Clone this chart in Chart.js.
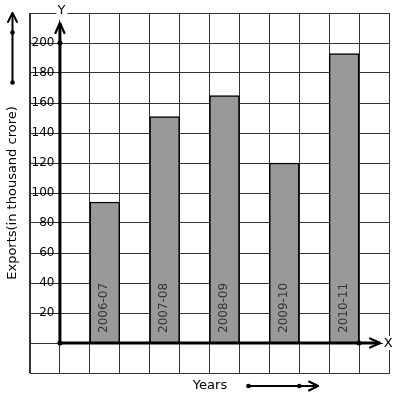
<!DOCTYPE html>
<html>
<head>
<meta charset="utf-8">
<script src="https://cdn.jsdelivr.net/npm/chart.js@4/dist/chart.umd.min.js"></script>
<style>
html,body{margin:0;padding:0;background:#fff;}
#wrap{width:397px;height:399px;position:relative;}
</style>
</head>
<body>
<div id="wrap"><canvas id="c"></canvas></div>
<script>
// ---- data ----
const categories = ['2006-07', '2007-08', '2008-09', '2009-10', '2010-11'];
const exportsValues = [94, 151, 165, 120, 193];
const yTickLabels = [20, 40, 60, 80, 100, 120, 140, 160, 180, 200];
const yAxisTitle = 'Exports(in thousand crore)';
const xAxisTitle = 'Years';

// graph-paper columns: one empty column between bars, two before the first
const slotCount = 12;
const slotLabels = [];
const slotValues = [];
for (let i = 0; i < slotCount; i++) { slotLabels.push(''); slotValues.push(null); }
categories.forEach((c, i) => { slotLabels[2 + 2 * i] = c; slotValues[2 + 2 * i] = exportsValues[i]; });

Chart.defaults.font.family = "'DejaVu Sans', sans-serif";

function chevronUp(ctx, x, y, w, h) {
  ctx.beginPath();
  ctx.moveTo(x - w, y + h); ctx.lineTo(x, y); ctx.lineTo(x + w, y + h);
  ctx.stroke();
}
function chevronRight(ctx, x, y, w, h) {
  ctx.beginPath();
  ctx.moveTo(x - h, y - w); ctx.lineTo(x, y); ctx.lineTo(x - h, y + w);
  ctx.stroke();
}
function dot(ctx, x, y, r) {
  ctx.beginPath(); ctx.arc(x, y, r, 0, Math.PI * 2); ctx.fill();
}

const decor = {
  id: 'decor',
  afterDraw(chart) {
    const ctx = chart.ctx;
    const xs = chart.scales.x, ys = chart.scales.y;
    const x0 = (xs.getPixelForValue(0) + xs.getPixelForValue(1)) / 2;
    const y0 = ys.getPixelForValue(0);
    const y200 = ys.getPixelForValue(200);
    const xEnd = (xs.getPixelForValue(10) + xs.getPixelForValue(11)) / 2;
    ctx.save();
    ctx.strokeStyle = '#000'; ctx.fillStyle = '#000';
    ctx.lineCap = 'round'; ctx.lineJoin = 'round';

    // bar labels
    const meta = chart.getDatasetMeta(0);
    ctx.font = "12px 'DejaVu Sans'";
    ctx.fillStyle = '#333';
    meta.data.forEach((bar, i) => {
      if (slotValues[i] == null) return;
      ctx.save();
      ctx.translate(bar.x - 0.5, y0 - 10);
      ctx.rotate(-Math.PI / 2);
      ctx.textAlign = 'left'; ctx.textBaseline = 'middle';
      ctx.fillText(slotLabels[i], 0, 0);
      ctx.restore();
    });
    ctx.fillStyle = '#000';

    // axes
    const yTip = y0 - 320;
    ctx.lineWidth = 3;
    ctx.beginPath(); ctx.moveTo(x0, y0); ctx.lineTo(x0, yTip + 1); ctx.stroke();
    ctx.beginPath(); ctx.moveTo(x0, y0); ctx.lineTo(xEnd + 20, y0); ctx.stroke();
    ctx.lineWidth = 2.2;
    chevronUp(ctx, x0, yTip, 4.5, 10);
    chevronRight(ctx, xEnd + 21, y0, 4.5, 10);
    dot(ctx, x0, y200, 2.5);
    dot(ctx, x0, y0, 2.5);
    dot(ctx, xEnd, y0, 2.5);

    // axis letters with white background
    ctx.font = "13px 'DejaVu Sans'";
    ctx.textAlign = 'center'; ctx.textBaseline = 'middle';
    ctx.fillStyle = '#fff';
    ctx.fillRect(x0 - 3.5, 4, 11, 16);
    ctx.fillRect(xEnd + 24, y0 - 7, 10, 14);
    ctx.fillStyle = '#000';
    ctx.fillText('Y', x0 + 1.5, 11);
    ctx.fillText('X', xEnd + 29, y0 + 1);

    // x title and arrow
    ctx.fillText(xAxisTitle, 210, 385.5);
    ctx.lineWidth = 2;
    ctx.beginPath(); ctx.moveTo(248.5, 386); ctx.lineTo(318, 386); ctx.stroke();
    chevronRight(ctx, 318, 386, 4.5, 9);
    dot(ctx, 248.5, 386, 2.3);
    dot(ctx, 299.3, 386, 2.3);

    // left decorative arrow
    ctx.beginPath(); ctx.moveTo(12.5, 82.5); ctx.lineTo(12.5, 13.5); ctx.stroke();
    chevronUp(ctx, 12.5, 13, 4.5, 9);
    dot(ctx, 12.5, 32.5, 2.3);
    dot(ctx, 12.5, 82.5, 2.3);
    ctx.restore();
  }
};

new Chart(document.getElementById('c'), {
  type: 'bar',
  data: {
    labels: slotLabels,
    datasets: [{
      data: slotValues,
      backgroundColor: '#999999',
      borderColor: '#000000',
      borderWidth: 1.5,
      barPercentage: 1,
      categoryPercentage: 1
    }]
  },
  options: {
    responsive: true,
    maintainAspectRatio: false,
    animation: false,
    layout: { padding: { left: 0, top: 13, right: 8, bottom: 26 } },
    plugins: { legend: { display: false }, tooltip: { enabled: false } },
    scales: {
      x: {
        type: 'category',
        grid: { color: '#333', lineWidth: 1, drawTicks: false, offset: true },
        border: { display: true, color: '#333', width: 1 },
        ticks: { display: false }
      },
      y: {
        min: -20, max: 220,
        grid: { color: '#333', lineWidth: 1, drawTicks: false },
        border: { display: true, color: '#333', width: 1 },
        title: {
          display: true, text: yAxisTitle, color: '#000',
          font: { size: 13, family: "'DejaVu Sans'" },
          padding: { top: 5, bottom: 6.4 }
        },
        ticks: {
          stepSize: 20, mirror: true, crossAlign: 'far', padding: 1.5,
          color: '#000', font: { size: 12, family: "'DejaVu Sans'" },
          callback: (v) => yTickLabels.includes(v) ? String(v) : ''
        }
      }
    }
  },
  plugins: [decor]
});
</script>
</body>
</html>
